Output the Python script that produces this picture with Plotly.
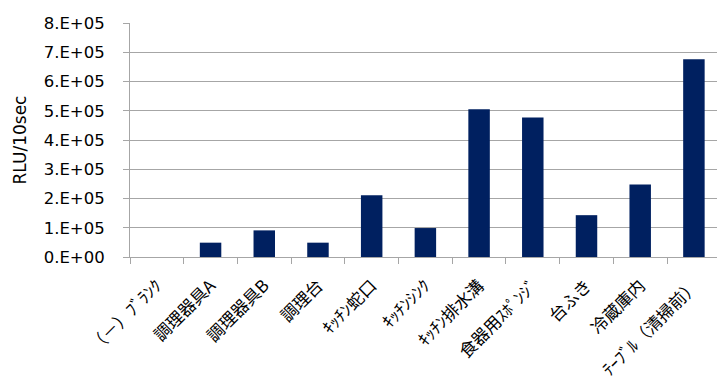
import plotly.graph_objects as go

# Sampling sites and luminescence counts (RLU per 10 seconds)
categories = [
    "（－）ﾌﾞﾗﾝｸ",
    "調理器具A",
    "調理器具B",
    "調理台",
    "ｷｯﾁﾝ蛇口",
    "ｷｯﾁﾝｼﾝｸ",
    "ｷｯﾁﾝ排水溝",
    "食器用ｽﾎﾟﾝｼﾞ",
    "台ふき",
    "冷蔵庫内",
    "ﾃｰﾌﾞﾙ（清掃前）",
]
rlu_values = [0, 49000, 91000, 49000, 211000, 99000, 505000, 477000, 143000, 248000, 676000]

y_tick_values = [0, 100000, 200000, 300000, 400000, 500000, 600000, 700000, 800000]
y_tick_labels = ["0.E+00", "1.E+05", "2.E+05", "3.E+05", "4.E+05",
                 "5.E+05", "6.E+05", "7.E+05", "8.E+05"]

bar_color = "#002060"
grid_color = "#a6a6a6"

fig = go.Figure(
    go.Bar(
        x=categories,
        y=rlu_values,
        marker=dict(color=bar_color, line=dict(width=0)),
        width=0.4,
    )
)

fig.update_layout(
    width=717,
    height=376,
    margin=dict(l=130, r=0, t=23, b=119),
    paper_bgcolor="white",
    plot_bgcolor="white",
    showlegend=False,
    font=dict(family="DejaVu Sans", color="#000000"),
)

fig.update_xaxes(
    type="category",
    range=[-0.5, 10.43],
    automargin=False,
    tickangle=-45,
    tickfont=dict(family="Noto Sans CJK JP", size=17, color="#000000"),
    ticks="outside",
    tickson="boundaries",
    ticklen=6,
    tickcolor=grid_color,
    ticklabelstandoff=11,
    showline=True,
    linecolor=grid_color,
    linewidth=1,
    showgrid=False,
)

fig.update_yaxes(
    range=[0, 800000],
    automargin=False,
    tickvals=y_tick_values,
    ticktext=y_tick_labels,
    tickfont=dict(family="DejaVu Sans", size=16.5, color="#000000"),
    ticks="outside",
    ticklen=6,
    tickcolor=grid_color,
    ticklabelstandoff=15,
    showline=True,
    linecolor=grid_color,
    linewidth=1,
    showgrid=True,
    gridcolor=grid_color,
    gridwidth=1,
    zeroline=False,
    title=dict(text="RLU/10sec", font=dict(family="DejaVu Sans", size=17, color="#000000"), standoff=12),
)

fig.write_html("out.html")
